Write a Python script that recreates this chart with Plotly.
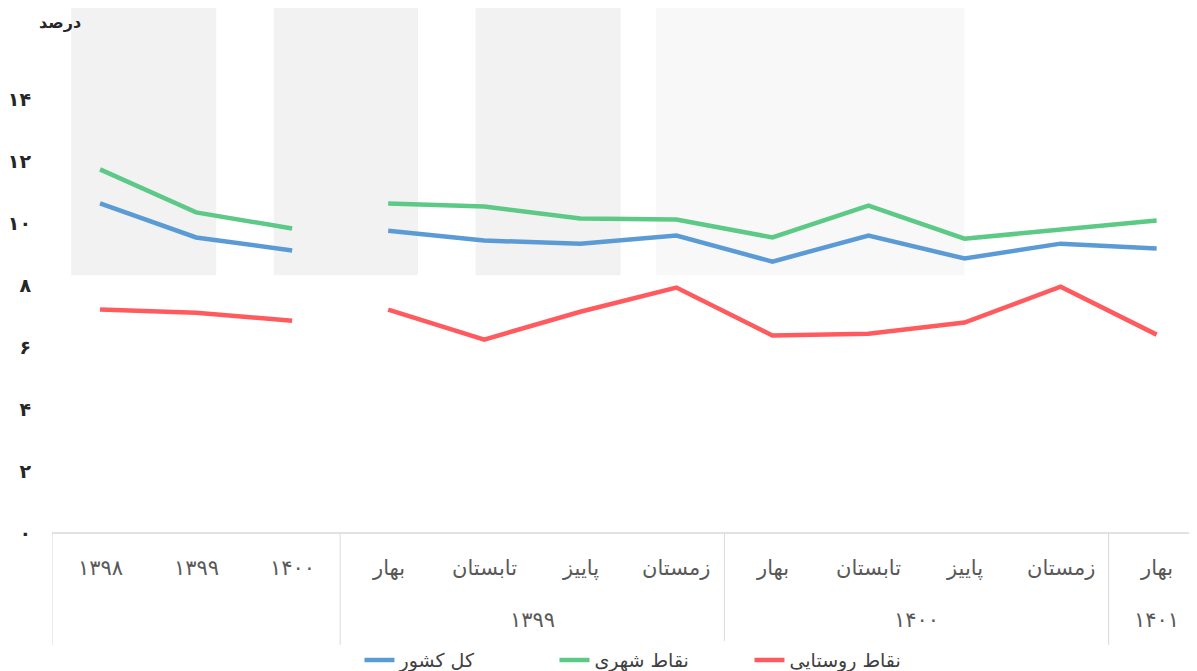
import plotly.graph_objects as go

# categories (left to right)
categories = ["۱۳۹۸", "۱۳۹۹", "۱۴۰۰",
              "بهار", "تابستان", "پاییز", "زمستان",
              "بهار", "تابستان", "پاییز", "زمستان",
              "بهار"]
groups = ["۱۳۹۹", "۱۴۰۰", "۱۴۰۱"]
group_span = [(3, 6), (7, 10), (11, 11)]

total = [10.65, 9.55, 9.13, 9.77, 9.45, 9.35, 9.61, 8.77, 9.61, 8.87, 9.35, 9.19]
urban = [11.75, 10.36, 9.84, 10.65, 10.55, 10.16, 10.13, 9.55, 10.58, 9.51, 9.81, 10.10]
rural = [7.22, 7.12, 6.86, 7.22, 6.25, 7.15, 7.93, 6.38, 6.44, 6.80, 7.96, 6.41]

y_ticks = [0, 2, 4, 6, 8, 10, 12, 14]
y_tick_text = ["۰", "۲", "۴", "۶", "۸", "۱۰", "۱۲", "۱۴"]

series = [
    ("کل کشور", total, "#5B9BD5"),
    ("نقاط شهری", urban, "#5DC986"),
    ("نقاط روستایی", rural, "#FF5B5F"),
]


def broken(values):
    # break the line between annual values and quarterly values
    xs = list(range(3)) + [None] + list(range(3, len(values)))
    ys = values[:3] + [None] + values[3:]
    return xs, ys


fig = go.Figure()

for name, vals, color in series:
    xs, ys = broken(vals)
    fig.add_trace(
        go.Scatter(
            x=xs,
            y=ys,
            mode="lines",
            name=name,
            line=dict(color=color, width=4.5),
            connectgaps=False,
        )
    )

# faint watermark blocks in the background
for x0, x1 in [(-0.3, 1.21), (1.81, 3.31), (3.91, 5.42)]:
    fig.add_shape(type="rect", xref="x", yref="paper", x0=x0, x1=x1, y0=0.493, y1=1.01,
                  fillcolor="#f2f2f2", line_width=0, layer="below")
fig.add_shape(type="rect", xref="x", yref="paper", x0=5.79, x1=9.0, y0=0.493, y1=1.01,
              fillcolor="#f8f8f8", line_width=0, layer="below")

# category axis line and separators
fig.add_shape(type="line", xref="x", yref="paper", x0=-0.5, x1=11.6, y0=0, y1=0,
              line=dict(color="#d9d9d9", width=1.5))
for sx in [-0.5, 2.5, 6.5, 10.5]:
    fig.add_shape(type="line", xref="x", yref="paper", x0=sx, x1=sx, y0=0, y1=-0.214,
                  line=dict(color="#d9d9d9", width=1))

for i, c in enumerate(categories):
    fig.add_annotation(x=i, y=-0.067, xref="x", yref="paper", text=c, showarrow=False,
                       font=dict(size=21, color="#595959"), yanchor="middle")
for g, (a, b) in zip(groups, group_span):
    fig.add_annotation(x=(a + b) / 2, y=-0.166, xref="x", yref="paper", text=g,
                       showarrow=False, font=dict(size=21, color="#595959"),
                       yanchor="middle")

fig.add_annotation(x=-0.013, y=0.977, xref="paper", yref="paper", text="<b>درصد</b>",
                   showarrow=False, xanchor="left", yanchor="middle",
                   font=dict(size=16, color="#262626"))

fig.update_xaxes(range=[-0.5, 11.42], showgrid=False, zeroline=False,
                 showticklabels=False, showline=False)
fig.update_yaxes(range=[0, 16.9], tickvals=y_ticks,
                 ticktext=["<b>" + t + "</b>" for t in y_tick_text],
                 showgrid=False, zeroline=False, showline=False, automargin=False,
                 tickfont=dict(size=19, color="#262626"), ticks="", ticklabelstandoff=20)

# the page adds 8px of body margin, so the figure is sized to fit the window
fig.update_layout(
    width=1189,
    height=663,
    template="plotly_white",
    plot_bgcolor="white",
    paper_bgcolor="white",
    font=dict(family="DejaVu Sans"),
    margin=dict(l=44, r=0, t=2, b=138, autoexpand=False),
    showlegend=True,
    legend=dict(orientation="h", x=0.524, xanchor="center", y=-0.243, yanchor="middle",
                font=dict(size=19, color="#404040"), entrywidth=150),
)

fig.write_html("out.html")
